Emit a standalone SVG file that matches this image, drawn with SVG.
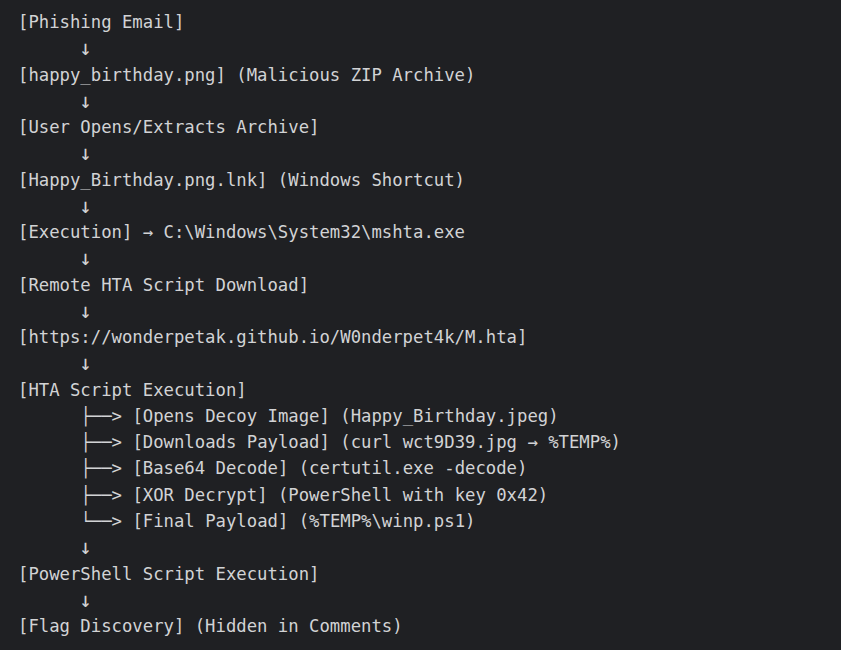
<svg xmlns="http://www.w3.org/2000/svg" width="841" height="650" viewBox="0 0 841 650">
<style>
text{font-family:"DejaVu Sans Mono","Liberation Mono",monospace;font-size:17.28px;fill:#d2d3d5;white-space:pre}
.dn{font-size:21px;text-anchor:middle}
</style>
<rect x="0" y="0" width="841" height="650" fill="#1f2023"/>
<g id="nodes">
<g id="n1"><text x="18" y="28">[Phishing Email]</text></g>
<g id="n2"><text x="18" y="80.5">[happy_birthday.png] (Malicious ZIP Archive)</text></g>
<g id="n3"><text x="18" y="133">[User Opens/Extracts Archive]</text></g>
<g id="n4"><text x="18" y="185.6">[Happy_Birthday.png.lnk] (Windows Shortcut)</text></g>
<g id="n5"><text x="18" y="238.1">[Execution] → C:\Windows\System32\mshta.exe</text></g>
<g id="n6"><text x="18" y="290.6">[Remote HTA Script Download]</text></g>
<g id="n7"><text x="18" y="343.1">[https://wonderpetak.github.io/W0nderpet4k/M.hta]</text></g>
<g id="n8"><text x="18" y="395.6">[HTA Script Execution]</text></g>
<g id="n9"><text x="132.4" y="421.9">[Opens Decoy Image] (Happy_Birthday.jpeg)</text></g>
<g id="n10"><text x="132.4" y="448.2">[Downloads Payload] (curl wct9D39.jpg → %TEMP%)</text></g>
<g id="n11"><text x="132.4" y="474.4">[Base64 Decode] (certutil.exe -decode)</text></g>
<g id="n12"><text x="132.4" y="500.7">[XOR Decrypt] (PowerShell with key 0x42)</text></g>
<g id="n13"><text x="132.4" y="526.9">[Final Payload] (%TEMP%\winp.ps1)</text></g>
<g id="n14"><text x="18" y="579.5">[PowerShell Script Execution]</text></g>
<g id="n15"><text x="18" y="632">[Flag Discovery] (Hidden in Comments)</text></g>
</g>
<g id="connectors">
<text class="dn" x="85.6" y="55.3">↓</text>
<text class="dn" x="85.6" y="107.8">↓</text>
<text class="dn" x="85.6" y="160.3">↓</text>
<text class="dn" x="85.6" y="212.8">↓</text>
<text class="dn" x="85.6" y="265.3">↓</text>
<text class="dn" x="85.6" y="317.9">↓</text>
<text class="dn" x="85.6" y="370.4">↓</text>
<text x="80.4" y="421.9">├──&gt;</text>
<text x="80.4" y="448.2">├──&gt;</text>
<text x="80.4" y="474.4">├──&gt;</text>
<text x="80.4" y="500.7">├──&gt;</text>
<text x="80.4" y="526.9">└──&gt;</text>
<text class="dn" x="85.6" y="554.2">↓</text>
<text class="dn" x="85.6" y="606.7">↓</text>
</g>
</svg>
